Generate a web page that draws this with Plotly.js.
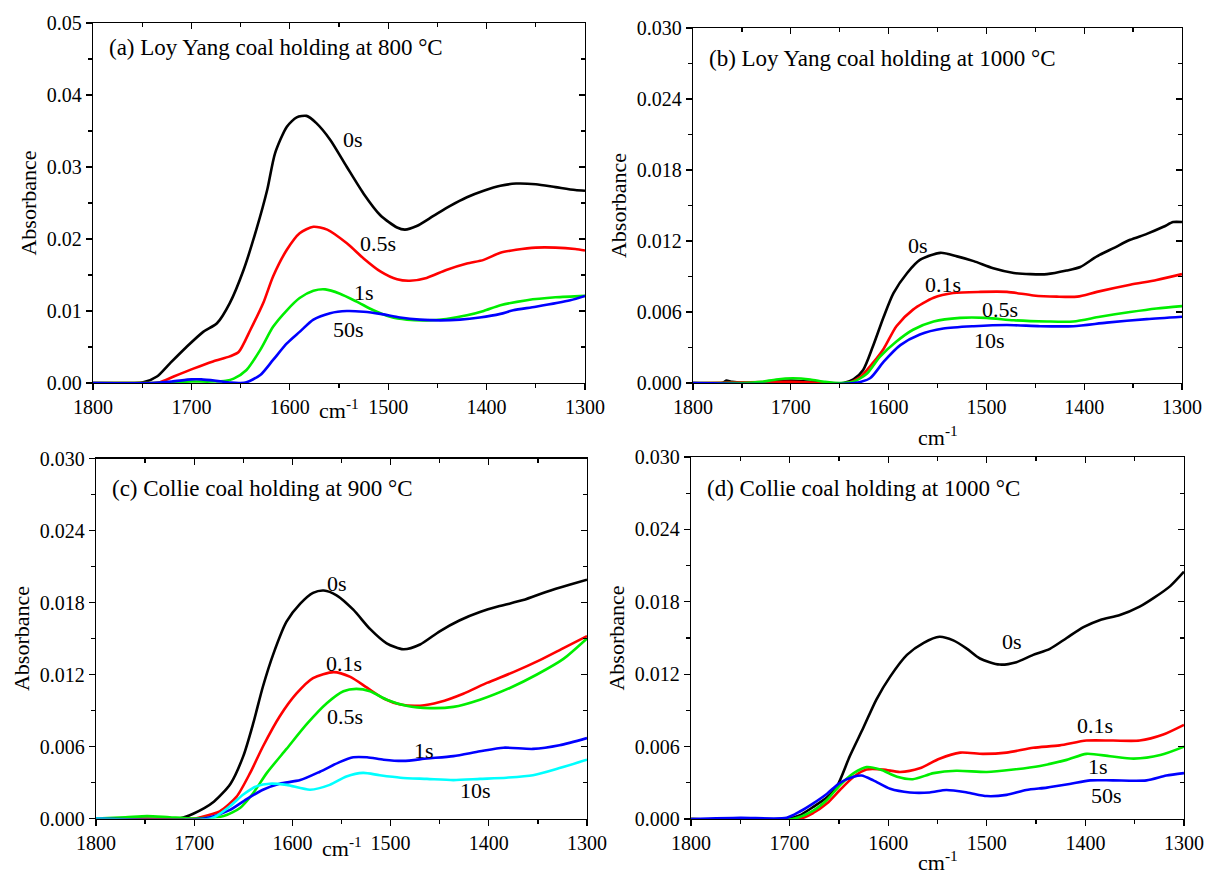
<!DOCTYPE html>
<html>
<head>
<meta charset="utf-8">
<script src="https://cdn.plot.ly/plotly-3.0.1.min.js"></script>
<style>html,body{margin:0;padding:0;background:#fff;}#chart{width:1207px;height:877px;}</style>
</head>
<body>
<div id="chart"></div>
<script>
// ---------- Panel (a): Loy Yang coal holding at 800 °C ----------
const a_0s_x   = [1800,1760,1749,1735,1722,1705,1688,1674,1661,1647,1634,1623,1615,1603,1593,1583,1573,1559,1542,1525,1508,1491,1483,1471,1454,1437,1420,1403,1386,1370,1350,1330,1310,1300];
const a_0s_y   = [0,0,0.0001,0.0009,0.0027,0.0050,0.0071,0.0083,0.0111,0.0157,0.0213,0.0268,0.0319,0.0356,0.0369,0.0371,0.0361,0.0338,0.0300,0.0263,0.0233,0.0216,0.0213,0.0218,0.0232,0.0246,0.0258,0.0267,0.0274,0.0277,0.0276,0.0272,0.0268,0.0267];
const a_05s_x  = [1800,1740,1732,1718,1698,1678,1661,1652,1640,1627,1617,1603,1590,1576,1562,1542,1525,1508,1491,1478,1461,1441,1420,1403,1386,1370,1350,1330,1310,1300];
const a_05s_y  = [0,0,0.0001,0.0009,0.0020,0.0030,0.0037,0.0043,0.0074,0.0111,0.0148,0.0185,0.0208,0.0217,0.0213,0.0194,0.0173,0.0155,0.0144,0.0142,0.0146,0.0157,0.0166,0.0171,0.0181,0.0185,0.0188,0.0188,0.0186,0.0184];
const a_1s_x   = [1800,1740,1720,1700,1680,1665,1657,1644,1630,1617,1603,1590,1576,1564,1549,1532,1515,1498,1481,1461,1441,1420,1403,1386,1359,1330,1300];
const a_1s_y   = [0,0,0.0001,0.0002,0.0002,0.0003,0.0006,0.0018,0.0046,0.0078,0.0101,0.0118,0.0128,0.0130,0.0124,0.0113,0.0101,0.0092,0.0088,0.0087,0.0089,0.0094,0.0100,0.0108,0.0115,0.0119,0.0121];
const a_50s_x  = [1800,1740,1720,1700,1690,1675,1660,1650,1644,1630,1617,1603,1590,1576,1559,1542,1525,1508,1488,1468,1447,1427,1407,1386,1373,1350,1315,1300];
const a_50s_y  = [0,0,0.0002,0.0005,0.0005,0.0003,0.00005,0,0.0001,0.0011,0.0032,0.0055,0.0071,0.0088,0.0097,0.0100,0.0099,0.0096,0.0091,0.0088,0.0087,0.0088,0.0091,0.0096,0.0101,0.0106,0.0115,0.0121];

// ---------- Panel (b): Loy Yang coal holding at 1000 °C ----------
const b_0s_x   = [1800,1770,1766,1760,1740,1700,1680,1646,1636,1626,1616,1605,1595,1581,1568,1547,1530,1513,1493,1472,1455,1438,1418,1404,1387,1370,1353,1336,1319,1309,1300];
const b_0s_y   = [0,0,0.0002,0.0001,0,0.0002,0.0001,0,0.0003,0.0011,0.0031,0.0056,0.0076,0.0093,0.0104,0.0110,0.0107,0.0103,0.0097,0.0093,0.0092,0.0092,0.0095,0.0098,0.0107,0.0114,0.0121,0.0126,0.0132,0.0136,0.0136];
const b_01s_x  = [1800,1700,1642,1629,1616,1605,1592,1575,1554,1534,1506,1479,1452,1428,1407,1387,1353,1326,1300];
const b_01s_y  = [0,0.0001,0,0.0005,0.0017,0.0029,0.0048,0.0062,0.0072,0.0076,0.0077,0.0077,0.0074,0.0073,0.0073,0.0077,0.0083,0.0087,0.0092];
const b_05s_x  = [1800,1750,1730,1715,1698,1680,1665,1650,1636,1622,1609,1592,1575,1554,1527,1500,1472,1438,1411,1384,1353,1326,1300];
const b_05s_y  = [0,0,0.0001,0.0003,0.0004,0.0003,0.0001,0,0.0001,0.0008,0.0022,0.0035,0.0045,0.0052,0.0055,0.0055,0.0053,0.0052,0.0052,0.0056,0.0060,0.0063,0.0065];
const b_10s_x  = [1800,1635,1619,1605,1588,1568,1544,1513,1479,1445,1411,1377,1336,1300];
const b_10s_y  = [0,0,0.0004,0.0018,0.0032,0.0041,0.0046,0.0048,0.0049,0.0048,0.0048,0.0051,0.0054,0.0056];

// ---------- Panel (c): Collie coal holding at 900 °C ----------
const c_0s_x   = [1800,1760,1715,1701,1680,1663,1650,1640,1630,1619,1606,1592,1579,1568,1555,1538,1521,1504,1487,1470,1450,1430,1409,1389,1365,1341,1317,1300];
const c_0s_y   = [0,0,0,0.0004,0.0014,0.0029,0.0052,0.0079,0.0110,0.0138,0.0164,0.0179,0.0188,0.0190,0.0186,0.0174,0.0158,0.0146,0.0141,0.0145,0.0156,0.0165,0.0172,0.0177,0.0182,0.0189,0.0195,0.0199];
const c_01s_x  = [1800,1700,1694,1674,1657,1643,1630,1613,1596,1579,1558,1541,1524,1507,1490,1470,1450,1426,1402,1375,1348,1324,1300];
const c_01s_y  = [0,0,0.0001,0.0006,0.0018,0.0038,0.0060,0.0085,0.0104,0.0117,0.0122,0.0118,0.0109,0.0100,0.0095,0.0094,0.0097,0.0104,0.0113,0.0122,0.0132,0.0142,0.0152];
const c_05s_x  = [1800,1770,1748,1725,1700,1670,1653,1640,1626,1606,1585,1565,1548,1535,1521,1504,1484,1460,1436,1409,1378,1351,1324,1300];
const c_05s_y  = [0,0.0001,0.0002,0.0001,0,0.0002,0.0009,0.0021,0.0038,0.0058,0.0079,0.0096,0.0106,0.0108,0.0106,0.0099,0.0094,0.0092,0.0093,0.0099,0.0109,0.0120,0.0133,0.0150];
const c_1s_x   = [1800,1690,1664,1647,1630,1613,1592,1572,1552,1538,1524,1507,1487,1463,1436,1409,1385,1355,1328,1300];
const c_1s_y   = [0,0,0.0007,0.0016,0.0024,0.0029,0.0032,0.0039,0.0047,0.0051,0.0051,0.0049,0.0048,0.0050,0.0052,0.0056,0.0059,0.0058,0.0061,0.0067];
const c_10s_x  = [1800,1683,1664,1650,1636,1623,1606,1582,1562,1545,1528,1511,1490,1463,1436,1409,1382,1355,1328,1300];
const c_10s_y  = [0,0,0.0010,0.0020,0.0027,0.0029,0.0028,0.0024,0.0028,0.0035,0.0038,0.0036,0.0034,0.0033,0.0032,0.0033,0.0034,0.0036,0.0042,0.0049];

// ---------- Panel (d): Collie coal holding at 1000 °C ----------
const d_0s_x   = [1800,1703,1690,1676,1662,1652,1639,1625,1612,1598,1581,1564,1548,1534,1520,1507,1487,1470,1453,1436,1419,1402,1385,1365,1345,1331,1314,1300];
const d_0s_y   = [0,0,0.0003,0.0010,0.0018,0.0027,0.0052,0.0076,0.0099,0.0118,0.0136,0.0146,0.0151,0.0148,0.0141,0.0133,0.0128,0.0130,0.0136,0.0141,0.0150,0.0159,0.0165,0.0169,0.0176,0.0183,0.0193,0.0205];
const d_01s_x  = [1800,1690,1676,1662,1649,1635,1622,1605,1588,1568,1548,1527,1504,1480,1453,1426,1399,1372,1345,1321,1300];
const d_01s_y  = [0,0,0.0005,0.0013,0.0024,0.0035,0.0041,0.0041,0.0039,0.0042,0.0050,0.0055,0.0054,0.0055,0.0059,0.0061,0.0065,0.0065,0.0065,0.0070,0.0078];
const d_1s_x   = [1800,1697,1676,1662,1649,1635,1622,1608,1591,1575,1554,1531,1500,1473,1446,1419,1399,1375,1351,1324,1300];
const d_1s_y   = [0,0,0.0007,0.0016,0.0028,0.0038,0.0043,0.0041,0.0035,0.0033,0.0038,0.0040,0.0039,0.0041,0.0044,0.0049,0.0054,0.0052,0.0050,0.0053,0.0060];
const d_50s_x  = [1800,1750,1703,1690,1676,1662,1649,1635,1627,1615,1598,1578,1558,1541,1520,1500,1480,1460,1439,1416,1395,1372,1338,1318,1300];
const d_50s_y  = [0,0.0001,0.0001,0.0006,0.0013,0.0021,0.0030,0.0035,0.0036,0.0032,0.0025,0.0022,0.0022,0.0024,0.0022,0.0019,0.0020,0.0024,0.0026,0.0029,0.0032,0.0032,0.0032,0.0036,0.0038];

// ---------- Text ----------
const panelTitles = ['(a) Loy Yang coal holding at 800 °C','(b) Loy Yang coal holding at 1000 °C','(c) Collie coal holding at 900 °C','(d) Collie coal holding at 1000 °C'];
const xTitle = 'cm<sup>-1</sup>';
const yTitle = 'Absorbance';
const xTickVals = [1800,1700,1600,1500,1400,1300];

// curve labels: [text, x, y]
const a_labels = [['0s',1536,0.0338],['0.5s',1510,0.0194],['1s',1525,0.0126],['50s',1540,0.0074]];
const b_labels = [['0s',1570,0.01158],['0.1s',1544,0.0083],['0.5s',1486,0.0062],['10s',1497,0.0036]];
const c_labels = [['0s',1555,0.0196],['0.1s',1547,0.0129],['0.5s',1546,0.00848],['1s',1466,0.0057],['10s',1414,0.0023]];
const d_labels = [['0s',1474,0.01475],['0.1s',1390,0.00773],['1s',1387,0.00433],['50s',1379,0.00192]];

// ---------- Styling ----------
const FONT = 'Liberation Serif';
const BLACK='#000000', RED='#ff0000', GREEN='#00ee00', BLUE='#0000ff', CYAN='#00ffff';

function tr(x, y, color, n) {
  return {x:x, y:y, type:'scatter', mode:'lines', line:{color:color, width:2.6, shape:'spline', smoothing:0.7},
          xaxis:'x'+(n===1?'':n), yaxis:'y'+(n===1?'':n), showlegend:false, hoverinfo:'skip'};
}
const data = [
  tr(a_0s_x,a_0s_y,BLACK,1), tr(a_05s_x,a_05s_y,RED,1), tr(a_1s_x,a_1s_y,GREEN,1), tr(a_50s_x,a_50s_y,BLUE,1),
  tr(b_0s_x,b_0s_y,BLACK,2), tr(b_01s_x,b_01s_y,RED,2), tr(b_05s_x,b_05s_y,GREEN,2), tr(b_10s_x,b_10s_y,BLUE,2),
  tr(c_0s_x,c_0s_y,BLACK,3), tr(c_01s_x,c_01s_y,RED,3), tr(c_05s_x,c_05s_y,GREEN,3), tr(c_1s_x,c_1s_y,BLUE,3), tr(c_10s_x,c_10s_y,CYAN,3),
  tr(d_0s_x,d_0s_y,BLACK,4), tr(d_01s_x,d_01s_y,RED,4), tr(d_1s_x,d_1s_y,GREEN,4), tr(d_50s_x,d_50s_y,BLUE,4)
];
// dummy traces so the mirrored (top/right) overlay axes exist
for (let n=1;n<=4;n++) {
  data.push({x:[null],y:[null],type:'scatter',mode:'lines',xaxis:'x'+(n+4),yaxis:'y'+(n===1?'':n),showlegend:false,hoverinfo:'skip'});
  data.push({x:[null],y:[null],type:'scatter',mode:'lines',xaxis:'x'+(n===1?'':n),yaxis:'y'+(n+4),showlegend:false,hoverinfo:'skip'});
}

const W=1207, H=877;
// pixel boxes [left, right, top, bottom]
const boxes = [[93,585,23,383],[693,1182,28,383],[96,587,458.5,818.5],[691,1184,457,819]];
const yRanges = [[0,0.05],[0,0.03],[0,0.03],[0,0.03]];
const yDticks = [0.01,0.006,0.006,0.006];
const yFormats = ['.2f','.3f','.3f','.3f'];
const titleY = [48,58,489,489];
const xTitleY = [409,436,847,861];

const tickfont = {family:FONT, size:20, color:'#000'};
const layout = {
  width:W, height:H, margin:{l:0,r:0,t:0,b:0}, paper_bgcolor:'#fff', plot_bgcolor:'#fff',
  font:{family:FONT, size:20, color:'#000'}, showlegend:false, annotations:[]
};
const common = {showgrid:false, zeroline:false, showline:true, linecolor:'#000', linewidth:1.3,
                tickcolor:'#000', tickwidth:1.3, fixedrange:true};
const allLabels=[a_labels,b_labels,c_labels,d_labels];
for (let i=0;i<4;i++) {
  const n=i+1, s=(n===1?'':n);
  const [l,r,t,b]=boxes[i];
  const xd=[l/W, r/W], yd=[(H-b)/H, (H-t)/H];
  layout['xaxis'+s] = Object.assign({}, common, {
    domain:xd, anchor:'y'+s, range:[1800,1300], tickmode:'array', tickvals:xTickVals,
    ticks:'outside', ticklen:6, tickfont:tickfont,
    minor:{tickmode:'linear', tick0:1300, dtick:50, ticks:'outside', ticklen:4, tickwidth:1.3, tickcolor:'#000', showgrid:false}
  });
  layout['yaxis'+s] = Object.assign({}, common, {
    domain:yd, anchor:'x'+s, range:yRanges[i], tickmode:'linear', tick0:0, dtick:yDticks[i], tickformat:yFormats[i],
    ticks:'outside', ticklen:6, tickfont:tickfont,
    minor:{tickmode:'linear', tick0:0, dtick:yDticks[i]/2, ticks:'outside', ticklen:4, tickwidth:1.3, tickcolor:'#000', showgrid:false},
    title:{text:yTitle, font:{family:FONT,size:22,color:'#000'}, standoff:4}
  });
  layout['xaxis'+(n+4)] = Object.assign({}, common, {
    overlaying:'x'+s, anchor:'y'+s, side:'top', range:[1800,1300], tickmode:'array', tickvals:xTickVals,
    ticks:'inside', ticklen:6, showticklabels:false,
    minor:{tickmode:'linear', tick0:1300, dtick:50, ticks:'inside', ticklen:4, tickwidth:1.3, tickcolor:'#000', showgrid:false}
  });
  layout['yaxis'+(n+4)] = Object.assign({}, common, {
    overlaying:'y'+s, anchor:'x'+s, side:'right', range:yRanges[i], tickmode:'linear', tick0:0, dtick:yDticks[i],
    ticks:'inside', ticklen:6, showticklabels:false,
    minor:{tickmode:'linear', tick0:0, dtick:yDticks[i]/2, ticks:'inside', ticklen:4, tickwidth:1.3, tickcolor:'#000', showgrid:false}
  });
  // x-axis title (wavenumber unit)
  layout.annotations.push({xref:'paper', yref:'paper', x:(l+r)/2/W, y:(H-xTitleY[i])/H,
    xanchor:'center', yanchor:'middle', showarrow:false, text:xTitle, font:{family:FONT,size:22,color:'#000'}});
  // panel title
  layout.annotations.push({xref:'x'+s, yref:'paper', x:1786, y:(H-titleY[i])/H,
    xanchor:'left', yanchor:'middle', showarrow:false, text:panelTitles[i], font:{family:FONT,size:23,color:'#000'}});
  // curve labels
  for (const [txt,xv,yv] of allLabels[i]) {
    layout.annotations.push({xref:'x'+s, yref:'y'+s, x:xv, y:yv, xanchor:'center', yanchor:'middle',
      showarrow:false, text:txt, font:{family:FONT,size:22,color:'#000'}});
  }
}
Plotly.newPlot('chart', data, layout, {displayModeBar:false, staticPlot:true});
</script>
</body>
</html>
